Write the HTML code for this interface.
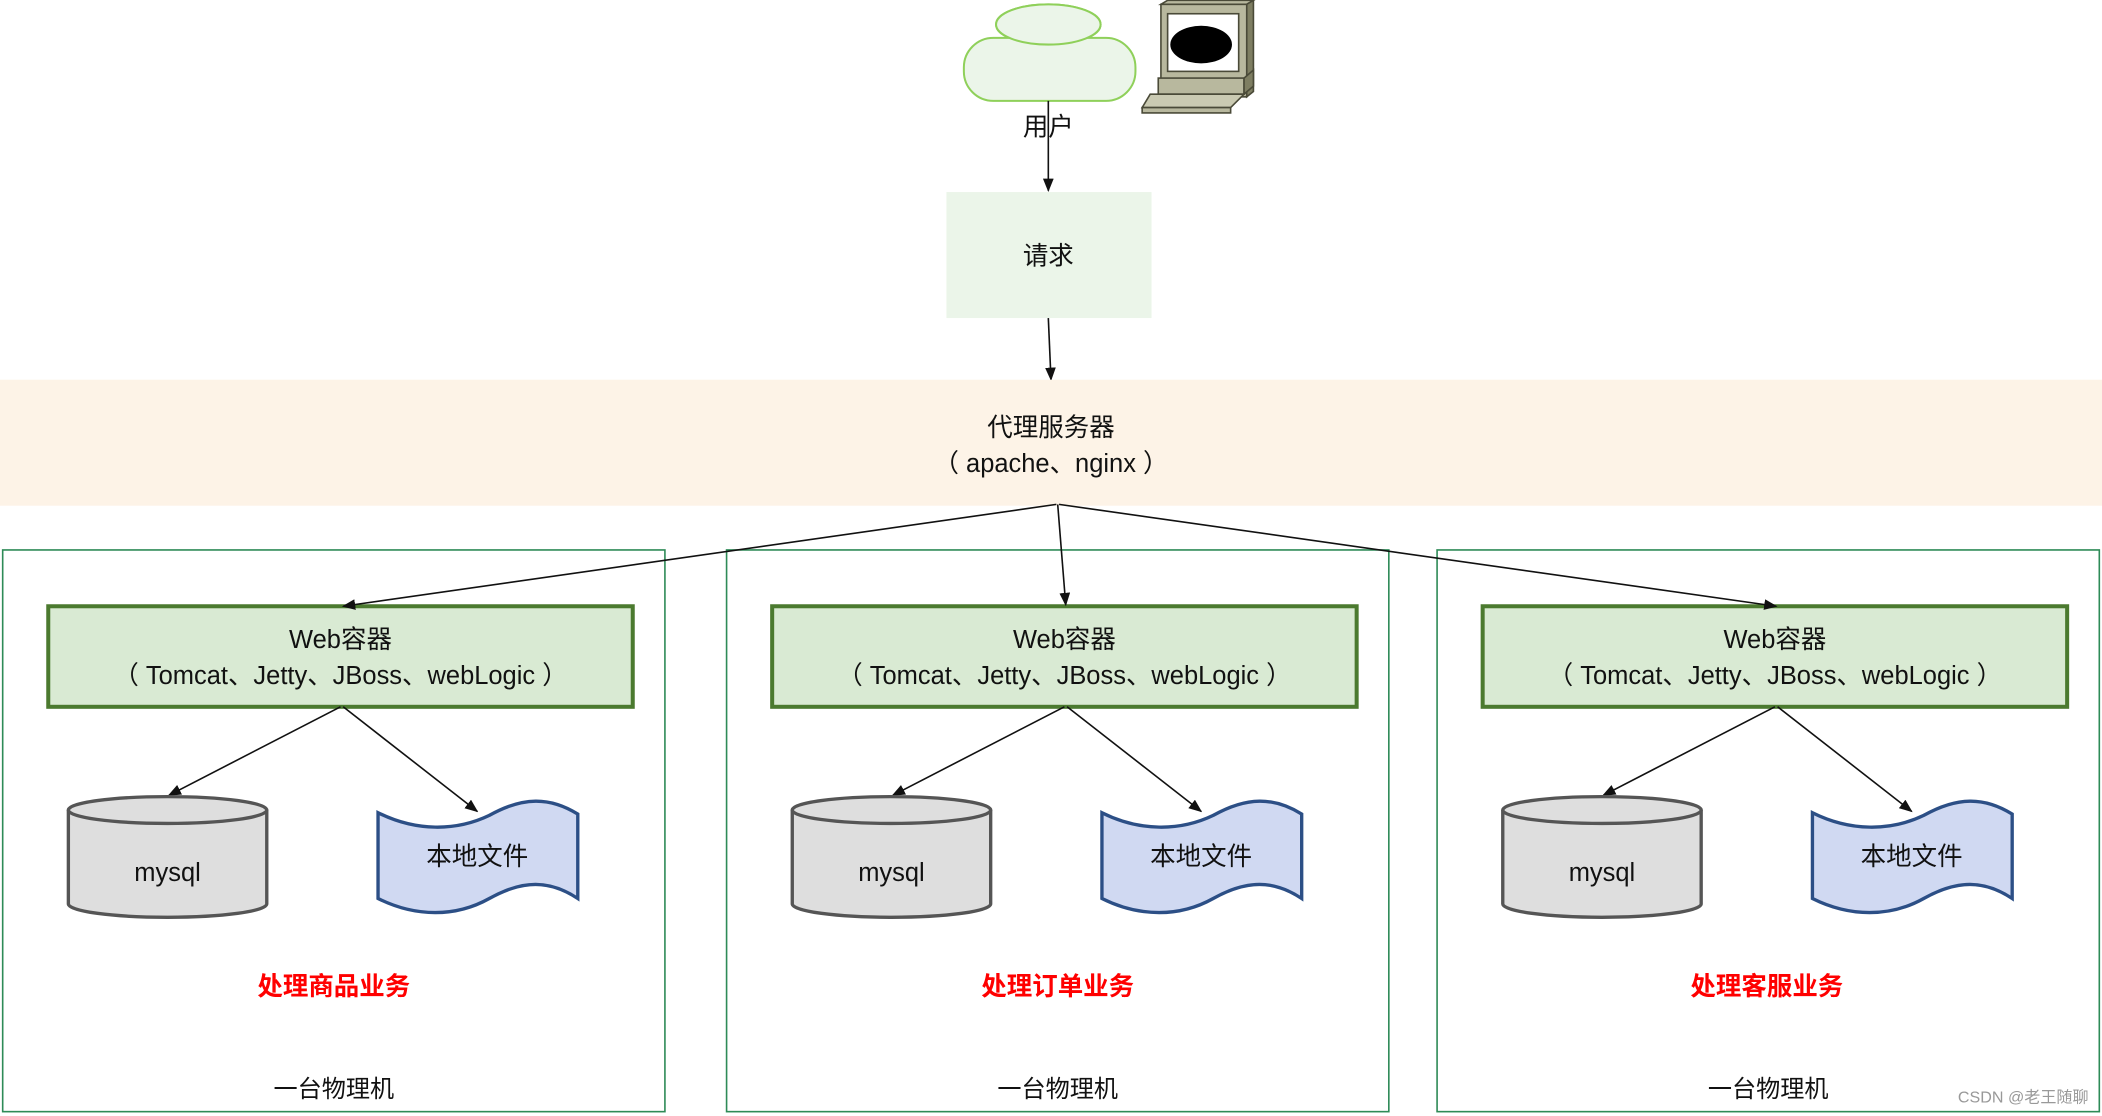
<!DOCTYPE html>
<html><head><meta charset="utf-8"><style>html,body{margin:0;padding:0;background:#fff}svg{display:block}text{font-family:"Liberation Sans","Noto Sans CJK SC",sans-serif}</style></head><body>
<svg width="2102" height="1116" viewBox="0 0 1568 832" xmlns="http://www.w3.org/2000/svg">
<defs><marker id="a" markerWidth="10" markerHeight="8" refX="9" refY="4" orient="auto" markerUnits="userSpaceOnUse"><path d="M0,0 L10,4 L0,8 z" fill="#111"/></marker>
<g id="unit">
<rect x="2" y="410" width="494" height="419" fill="none" stroke="#2e8b57" stroke-width="1.2"/>
<rect x="36" y="452" width="436" height="75" fill="#d9ead3" stroke="#4b7a2f" stroke-width="3"/>
<text x="254" y="483" font-size="19" text-anchor="middle" fill="#111">Web容器</text>
<text x="254" y="510" font-size="19" text-anchor="middle" fill="#111">（ Tomcat、Jetty、JBoss、webLogic ）</text>
<line x1="254" y1="527" x2="126" y2="593" stroke="#111" stroke-width="1.2" marker-end="url(#a)"/>
<line x1="256" y1="527" x2="356" y2="605" stroke="#111" stroke-width="1.2" marker-end="url(#a)"/>
<path d="M51,604 v70 a74,10 0 0 0 148,0 v-70" fill="#dedede" stroke="#555" stroke-width="2.5"/>
<ellipse cx="125" cy="604" rx="74" ry="10" fill="#dedede" stroke="#555" stroke-width="2.5"/>
<text x="125" y="657" font-size="19" text-anchor="middle" fill="#111">mysql</text>
<path d="M282,606 C310,620 340,620 365,608 C390,594 410,594 431,607 V670 C410,656 390,656 365,670 C340,684 310,684 282,670 Z" fill="#d0d9f2" stroke="#2c4f86" stroke-width="2.5"/>
<text x="356" y="645" font-size="19" text-anchor="middle" fill="#111">本地文件</text>
<text x="249" y="818" font-size="18" text-anchor="middle" fill="#111">一台物理机</text>
</g></defs>
<ellipse cx="782" cy="18" rx="39" ry="15" fill="#ebf5e9" stroke="#8fd05a" stroke-width="1.5"/>
<rect x="719" y="28" width="128" height="47" rx="22" fill="#ebf5e9" stroke="#8fd05a" stroke-width="1.5"/>
<ellipse cx="782" cy="18" rx="39" ry="15" fill="#ebf5e9" stroke="#8fd05a" stroke-width="1.5"/>
<g stroke="#4a4a38" stroke-width="1.2">
<polygon points="866,3 871,0 935,0 930,3" fill="#b8b89e"/>
<polygon points="930,3 935,0 935,68 930,72" fill="#7e7e62"/>
<rect x="866" y="3" width="64" height="69" fill="#b8b89e"/>
<rect x="871" y="10" width="53" height="43" fill="#fff"/>
<rect x="864" y="58" width="64" height="12" fill="#b8b89e"/>
<polygon points="928,58 935,52 935,64 928,70" fill="#7e7e62"/>
<polygon points="858,70 928,70 918,80 852,80" fill="#cacab2"/>
<rect x="852" y="80" width="66" height="4" fill="#b8b89e"/>
</g>
<ellipse cx="896" cy="33" rx="23" ry="14" fill="#000"/>
<text x="782" y="101" font-size="19" text-anchor="middle" fill="#111">用户</text>
<line x1="782" y1="75" x2="782" y2="142" stroke="#111" stroke-width="1.2" marker-end="url(#a)"/>
<rect x="706" y="143" width="153" height="94" fill="#ebf5e9"/>
<text x="782" y="197" font-size="19" text-anchor="middle" fill="#111">请求</text>
<line x1="782" y1="237" x2="784" y2="283" stroke="#111" stroke-width="1.2" marker-end="url(#a)"/>
<rect x="0" y="283" width="1568" height="94" fill="#fdf3e7"/>
<text x="784" y="325" font-size="19" text-anchor="middle" fill="#111">代理服务器</text>
<text x="784" y="352" font-size="19" text-anchor="middle" fill="#111">（ apache、nginx ）</text>
<use href="#unit"/>
<use href="#unit" x="540"/>
<use href="#unit" x="1070"/>
<line x1="788" y1="376" x2="256" y2="452" stroke="#111" stroke-width="1.2" marker-end="url(#a)"/>
<line x1="789" y1="376" x2="795" y2="451" stroke="#111" stroke-width="1.2" marker-end="url(#a)"/>
<line x1="790" y1="376" x2="1325" y2="452" stroke="#111" stroke-width="1.2" marker-end="url(#a)"/>
<text x="249" y="742" font-size="19" text-anchor="middle" fill="#f00" font-weight="bold">处理商品业务</text>
<text x="789" y="742" font-size="19" text-anchor="middle" fill="#f00" font-weight="bold">处理订单业务</text>
<text x="1318" y="742" font-size="19" text-anchor="middle" fill="#f00" font-weight="bold">处理客服业务</text>
<text x="1558" y="822" font-size="12" text-anchor="end" fill="#999">CSDN @老王随聊</text>
</svg>
</body></html>
